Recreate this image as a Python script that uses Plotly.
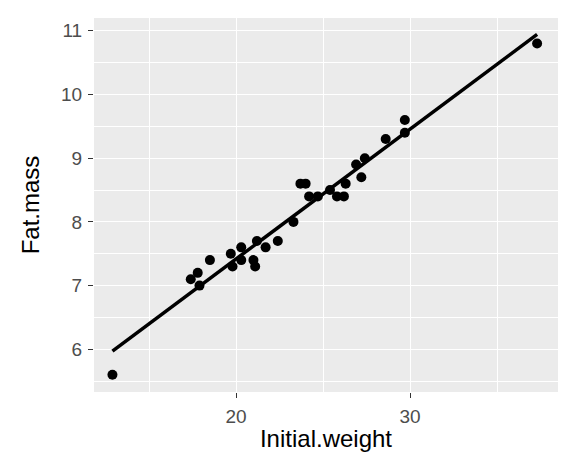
import numpy as np
import plotly.graph_objects as go

initial_weight = [12.9, 17.4, 17.8, 17.9, 18.5, 19.7, 19.8, 20.3, 20.3, 21.0,
                  21.1, 21.2, 21.7, 22.4, 23.3, 23.7, 24.0, 24.2, 24.7, 25.4,
                  25.8, 26.2, 26.3, 26.9, 27.2, 27.4, 28.6, 29.7, 29.7, 37.3]
fat_mass = [5.6, 7.1, 7.2, 7.0, 7.4, 7.5, 7.3, 7.6, 7.4, 7.4,
            7.3, 7.7, 7.6, 7.7, 8.0, 8.6, 8.6, 8.4, 8.4, 8.5,
            8.4, 8.4, 8.6, 8.9, 8.7, 9.0, 9.3, 9.6, 9.4, 10.8]

x_ticks = [20, 30]
y_ticks = [6, 7, 8, 9, 10, 11]

x = np.array(initial_weight)
y = np.array(fat_mass)
slope, intercept = np.polyfit(x, y, 1)
xl = np.linspace(x.min(), x.max(), 80)
yl = intercept + slope * xl

FONT = "Liberation Sans, Arial, sans-serif"

fig = go.Figure()
fig.add_trace(go.Scatter(x=x, y=y, mode="markers",
                         marker=dict(color="black", size=10), showlegend=False))
fig.add_trace(go.Scatter(x=xl, y=yl, mode="lines",
                         line=dict(color="black", width=3.5), showlegend=False))

axis_common = dict(
    showgrid=True, gridcolor="white", gridwidth=1.4,
    zeroline=False, showline=False, automargin=False,
    ticks="outside", ticklen=5, tickwidth=1.4, tickcolor="#333333",
    tickfont=dict(family=FONT, size=19, color="#4D4D4D"),
    ticklabelstandoff=2,
)

fig.update_layout(
    width=566, height=476,
    paper_bgcolor="white", plot_bgcolor="#EBEBEB",
    margin=dict(l=86, r=16, t=10, b=92),
    font=dict(family=FONT),
    xaxis=dict(range=[11.84, 38.5], tickvals=x_ticks,
               title=dict(text="Initial.weight", font=dict(family=FONT, size=24, color="black"), standoff=4),
               minor=dict(tickvals=[15, 25, 35], showgrid=True, gridcolor="white", gridwidth=0.7, ticks=""),
               **axis_common),
    yaxis=dict(range=[5.33, 11.2], tickvals=y_ticks,
               title=dict(text="Fat.mass", font=dict(family=FONT, size=24, color="black"), standoff=14),
               minor=dict(tickvals=[5.5, 6.5, 7.5, 8.5, 9.5, 10.5], showgrid=True, gridcolor="white", gridwidth=0.7, ticks=""),
               **axis_common),
)

fig.write_html("out.html")
